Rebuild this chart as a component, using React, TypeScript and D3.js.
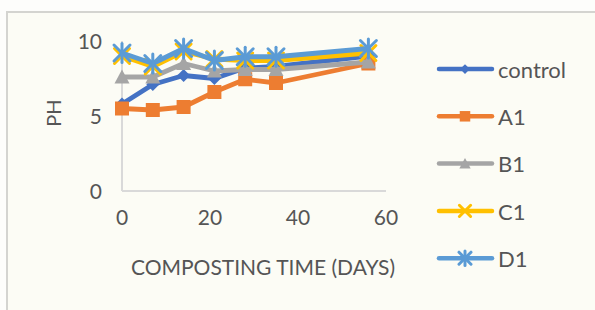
import React from "react";
import * as d3 from "d3";

const days = [0, 7, 14, 21, 28, 35, 56];
const control = [5.8, 7.1, 7.7, 7.5, 8.2, 8.3, 9.0];
const A1 = [5.5, 5.4, 5.6, 6.6, 7.45, 7.2, 8.5];
const B1 = [7.6, 7.6, 8.5, 8.0, 8.1, 8.1, 8.6];
const C1 = [9.0, 8.3, 9.3, 8.8, 8.7, 8.7, 9.2];
const D1 = [9.2, 8.5, 9.5, 8.7, 8.95, 8.95, 9.5];
const seriesNames = ["control", "A1", "B1", "C1", "D1"];
const seriesValues = [control, A1, B1, C1, D1];
const colors = ["#4472C4", "#ED7D31", "#A5A5A5", "#FFC000", "#5B9BD5"];
const markerTypes = ["diamond", "square", "triangle", "x", "star"];
const xTicks = [0, 20, 40, 60];
const yTicks = [0, 5, 10];

const FONT = "Lato, 'Open Sans', sans-serif";
const TXT = "#555555";

function Marker({ type, x, y, color, scale = 1 }: { type: string; x: number; y: number; color: string; scale?: number }) {
  const s = scale;
  if (type === "diamond") {
    const r = 6.5 * s;
    return <path d={`M${x},${y - r}L${x + r},${y}L${x},${y + r}L${x - r},${y}Z`} fill={color} />;
  }
  if (type === "square") {
    const r = 7 * s;
    return <rect x={x - r} y={y - r} width={2 * r} height={2 * r} fill={color} />;
  }
  if (type === "triangle") {
    const r = 7.5 * s;
    return <path d={`M${x},${y - r}L${x + r},${y + r * 0.85}L${x - r},${y + r * 0.85}Z`} fill={color} />;
  }
  if (type === "x") {
    const r = 7.5 * s;
    return (
      <g stroke={color} strokeWidth={3} strokeLinecap="round">
        <line x1={x - r} y1={y - r} x2={x + r} y2={y + r} />
        <line x1={x - r} y1={y + r} x2={x + r} y2={y - r} />
      </g>
    );
  }
  const r = 8 * s;
  return (
    <g stroke={color} strokeWidth={3} strokeLinecap="round">
      <line x1={x - r} y1={y - r} x2={x + r} y2={y + r} />
      <line x1={x - r} y1={y + r} x2={x + r} y2={y - r} />
      <line x1={x} y1={y - r * 1.2} x2={x} y2={y + r * 1.2} />
    </g>
  );
}

export default function App() {
  const W = 595;
  const H = 310;
  const x = d3.scaleLinear().domain([0, 60]).range([122, 386]);
  const y = d3.scaleLinear().domain([0, 10]).range([191, 41]);
  const line = d3
    .line<number>()
    .x((_, i) => x(days[i]))
    .y((d) => y(d));

  return (
    <svg width={W} height={H} style={{ position: "absolute", left: 0, top: 0 }}>
      <rect x={0} y={0} width={W} height={H} fill="#fdfdfb" />
      <rect x={7} y={12} width={W} height={H} fill="#fcfcf5" stroke="#d4d4d0" strokeWidth={2} />
      {/* axes */}
      <line x1={x(0)} y1={y(0)} x2={x(60)} y2={y(0)} stroke="#d9d9d9" strokeWidth={2} />
      <line x1={x(0)} y1={y(0)} x2={x(0)} y2={y(10)} stroke="#d9d9d9" strokeWidth={2} />
      {yTicks.map((t) => (
        <text key={t} x={102} y={y(t) + 1} dy="0.35em" textAnchor="end" fontFamily={FONT} fontSize={21} fill={TXT}>
          {t}
        </text>
      ))}
      {xTicks.map((t) => (
        <text key={t} x={x(t)} y={218} dy="0.35em" textAnchor="middle" fontFamily={FONT} fontSize={21} fill={TXT}>
          {t}
        </text>
      ))}
      <text x={263} y={268} dy="0.35em" textAnchor="middle" fontFamily={FONT} fontSize={21} fill={TXT}>
        COMPOSTING TIME (DAYS)
      </text>
      <text transform={`translate(54,113) rotate(-90)`} dy="0.35em" textAnchor="middle" fontFamily={FONT} fontSize={20} fill={TXT}>
        PH
      </text>
      {/* series */}
      {seriesValues.map((vals, si) => (
        <g key={seriesNames[si]}>
          <path d={line(vals) || ""} fill="none" stroke={colors[si]} strokeWidth={4.8} strokeLinejoin="round" strokeLinecap="round" />
          {vals.map((v, i) => (
            <Marker key={i} type={markerTypes[si]} x={x(days[i])} y={y(v)} color={colors[si]} />
          ))}
        </g>
      ))}
      {/* legend */}
      {seriesNames.map((n, i) => {
        const ly = 69 + i * 47.3;
        return (
          <g key={n}>
            <line x1={439} y1={ly} x2={492} y2={ly} stroke={colors[i]} strokeWidth={4.5} strokeLinecap="round" />
            <Marker type={markerTypes[i]} x={465} y={ly} color={colors[i]} scale={0.75} />
            <text x={498} y={ly + 1} dy="0.35em" fontFamily={FONT} fontSize={22} fill={TXT}>
              {n}
            </text>
          </g>
        );
      })}
    </svg>
  );
}
